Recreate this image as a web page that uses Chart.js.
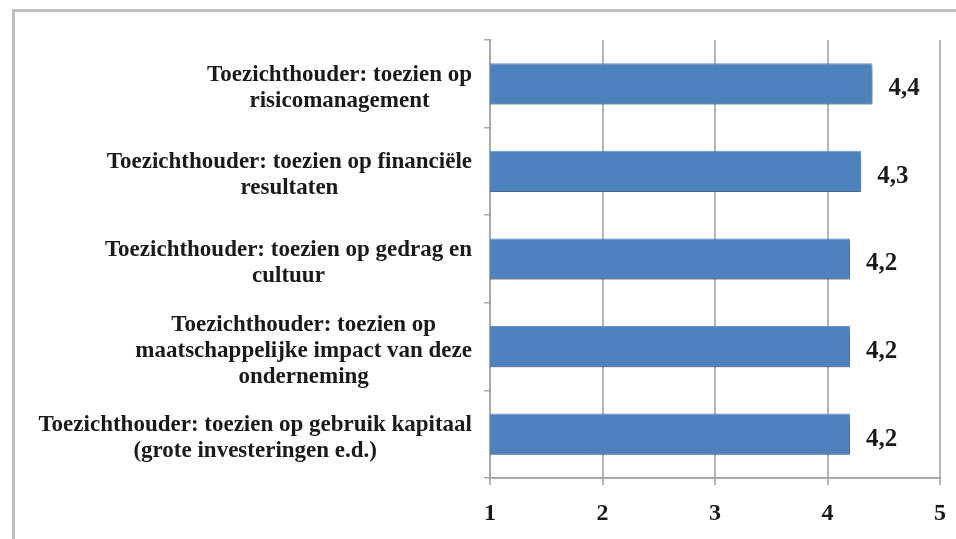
<!DOCTYPE html>
<html>
<head>
<meta charset="utf-8">
<script src="https://cdn.jsdelivr.net/npm/chart.js@4/dist/chart.umd.min.js"></script>
<style>
  html, body { margin: 0; padding: 0; background: #fff; overflow: hidden; }
  #wrap { position: relative; width: 956px; height: 539px; overflow: hidden; }
  .edge { position: absolute; background: #bdbdbd; }
  #edgeTop { left: 12px; top: 9px; width: 944px; height: 3px; }
  #edgeLeft { left: 12px; top: 9px; width: 3px; height: 530px; }
  canvas { position: absolute; left: 0; top: 0; }
</style>
</head>
<body>
<div id="wrap">
  <div class="edge" id="edgeTop"></div>
  <div class="edge" id="edgeLeft"></div>
  <canvas id="myBarChart" width="956" height="539"></canvas>
</div>
<script>
// data
var categories = [
    ['Toezichthouder: toezien op', 'risicomanagement'],
    ['Toezichthouder: toezien op financiële', 'resultaten'],
    ['Toezichthouder: toezien op gedrag en', 'cultuur'],
    ['Toezichthouder: toezien op', 'maatschappelijke impact van deze', 'onderneming'],
    ['Toezichthouder: toezien op gebruik kapitaal', '(grote investeringen e.d.)']
];
var scores = [4.4, 4.3, 4.2, 4.2, 4.2];
var xTicks = [1, 2, 3, 4, 5];

var serif = '"Liberation Serif", "Times New Roman", serif';
var gridColor = '#b4b4b4';

// category labels: each block right aligned, lines centered inside it
var categoryLabels = {
    id: 'categoryLabels',
    afterDraw: function(chart) {
        var ctx = chart.ctx;
        var yScale = chart.scales.y;
        ctx.save();
        ctx.font = 'bold 23px ' + serif;
        ctx.fillStyle = '#1a1a1a';
        ctx.textAlign = 'center';
        ctx.textBaseline = 'middle';
        categories.forEach(function(lines, i) {
            var y = yScale.getPixelForValue(i) + 4;
            var maxW = 0;
            lines.forEach(function(l) { maxW = Math.max(maxW, ctx.measureText(l).width); });
            var cx = yScale.right - 18 - maxW / 2;
            lines.forEach(function(l, j) {
                ctx.fillText(l, cx, y + (j - (lines.length - 1) / 2) * 26);
            });
        });
        ctx.restore();
    }
};

// value labels next to the bars, with comma decimals
var valueLabels = {
    id: 'valueLabels',
    afterDatasetsDraw: function(chart) {
        var ctx = chart.ctx;
        var meta = chart.getDatasetMeta(0);
        ctx.save();
        ctx.font = 'bold 25px ' + serif;
        ctx.fillStyle = '#1a1a1a';
        ctx.textAlign = 'left';
        ctx.textBaseline = 'middle';
        meta.data.forEach(function(bar, i) {
            ctx.fillText(scores[i].toFixed(1).replace('.', ','), bar.x + 16, bar.y + 5);
        });
        ctx.restore();
    }
};

// soft drop shadow under the bars
var barShadow = {
    id: 'barShadow',
    beforeDatasetsDraw: function(chart) {
        var ctx = chart.ctx;
        ctx.save();
        ctx.shadowColor = 'rgba(0, 0, 0, 0.4)';
        ctx.shadowBlur = 5;
        ctx.shadowOffsetX = 2;
        ctx.shadowOffsetY = 3;
    },
    afterDatasetsDraw: function(chart) {
        chart.ctx.restore();
    }
};

var ctx = document.getElementById('myBarChart').getContext('2d');
var myBarChart = new Chart(ctx, {
    type: 'bar',
    data: {
        labels: categories.map(function(c) { return c.join(' '); }),
        datasets: [{
            data: scores,
            backgroundColor: '#4f81bd',
            borderColor: '#6c97cb',
            borderWidth: 1,
            borderSkipped: false,
            categoryPercentage: 1,
            barPercentage: 0.47
        }]
    },
    plugins: [barShadow, valueLabels, categoryLabels],
    options: {
        indexAxis: 'y',
        responsive: false,
        animation: false,
        layout: { padding: { top: 40, right: 16, left: 0, bottom: 0 } },
        plugins: {
            legend: { display: false },
            tooltip: { enabled: false }
        },
        scales: {
            x: {
                min: xTicks[0],
                max: xTicks[xTicks.length - 1],
                afterBuildTicks: function(scale) {
                    scale.ticks = xTicks.map(function(v) { return { value: v }; });
                },
                afterFit: function(scale) {
                    scale.height = 61;
                    scale.paddingLeft = 0;
                    scale.paddingRight = 0;
                },
                ticks: {
                    color: '#1a1a1a',
                    font: { family: serif, size: 24, weight: 'bold' },
                    padding: 14
                },
                grid: { color: gridColor, lineWidth: 2, tickLength: 7 },
                border: { color: '#a8a8a8', width: 2 }
            },
            y: {
                afterFit: function(scale) { scale.width = 490; },
                ticks: { display: false },
                grid: { drawOnChartArea: false, color: '#a8a8a8', lineWidth: 1.5, tickLength: 6, offset: true },
                border: { color: '#a8a8a8', width: 2 }
            }
        }
    }
});
</script>
</body>
</html>
